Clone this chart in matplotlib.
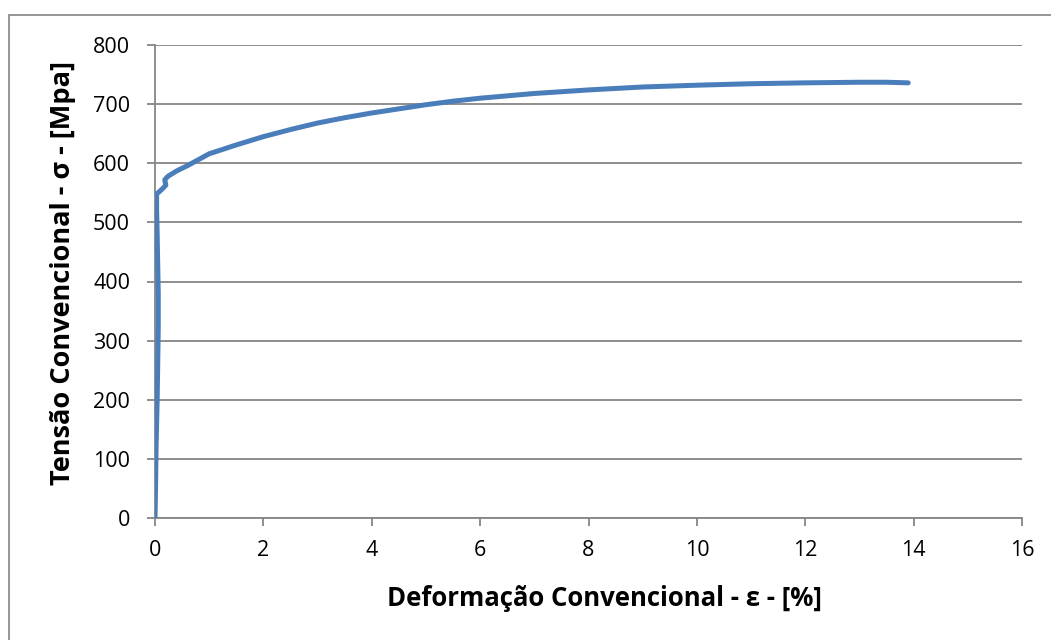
import matplotlib
matplotlib.use("Agg")
import matplotlib.pyplot as plt
from matplotlib.patches import Rectangle

# strain [%] and stress [MPa]
strain = [0.0, 0.01, 0.02, 0.04, 0.05, 0.06, 0.06, 0.05, 0.04, 0.03, 0.03,
          0.08, 0.15, 0.2, 0.18, 0.24, 0.4, 0.6, 0.8, 1.0, 1.5, 2.0, 2.5,
          3.0, 3.5, 4.0, 4.5, 5.0, 5.5, 6.0, 7.0, 8.0, 9.0, 10.0, 11.0,
          12.0, 13.0, 13.5, 13.9]
stress = [0, 50, 120, 200, 260, 320, 380, 430, 480, 520, 548,
          552, 558, 563, 572, 578, 587, 596, 606, 616, 631, 645, 657,
          668, 677, 685, 692, 699, 705, 710, 718, 724, 729, 732, 734.5,
          736, 737, 737, 736]

xticks = [0, 2, 4, 6, 8, 10, 12, 14, 16]
yticks = [0, 100, 200, 300, 400, 500, 600, 700, 800]

plt.rcParams['font.family'] = ['Open Sans', 'DejaVu Sans']

fig = plt.figure(figsize=(10.51, 6.40), dpi=100)
ax = fig.add_axes([155/1051, 1-518/640, (1022-155)/1051, (518-45)/640])

grid_col = '#868686'
ax.plot(strain, stress, color='#4a7ebb', lw=3.6, solid_capstyle='round',
        solid_joinstyle='round', zorder=3)

ax.set_xlim(0, 16)
ax.set_ylim(0, 800)
ax.set_xticks(xticks)
ax.set_yticks(yticks)
ax.yaxis.grid(True, color=grid_col, lw=1.3)
ax.set_axisbelow(True)
for s in ['top', 'right']:
    ax.spines[s].set_visible(False)
for s in ['left', 'bottom']:
    ax.spines[s].set_color(grid_col)
    ax.spines[s].set_linewidth(1.3)
ax.tick_params(direction='out', length=6, width=1.3, color=grid_col,
               labelsize=15.5)
ax.tick_params(axis='x', pad=10)
ax.tick_params(axis='y', pad=12)

ax.set_xlabel('Deformação Convencional - ε - [%]', fontsize=18.5,
              fontweight='bold')
ax.set_ylabel('Tensão Convencional - σ - [Mpa]', fontsize=19.5,
              fontweight='bold')
ax.xaxis.set_label_coords((604-155)/867, -(598-518)/473,
                          transform=ax.transAxes)
ax.yaxis.set_label_coords(-(155-63)/867, (518-273)/473,
                          transform=ax.transAxes)
ax.xaxis.label.set_va('center')
ax.yaxis.label.set_va('center')

# outer chart border
fig.patches.append(Rectangle((8.5/1051, -0.1), 1.2, 1-15/640+0.1,
                             transform=fig.transFigure, fill=False,
                             edgecolor='#8c8c8c', lw=1.3))

fig.savefig('out.png', dpi=100)
